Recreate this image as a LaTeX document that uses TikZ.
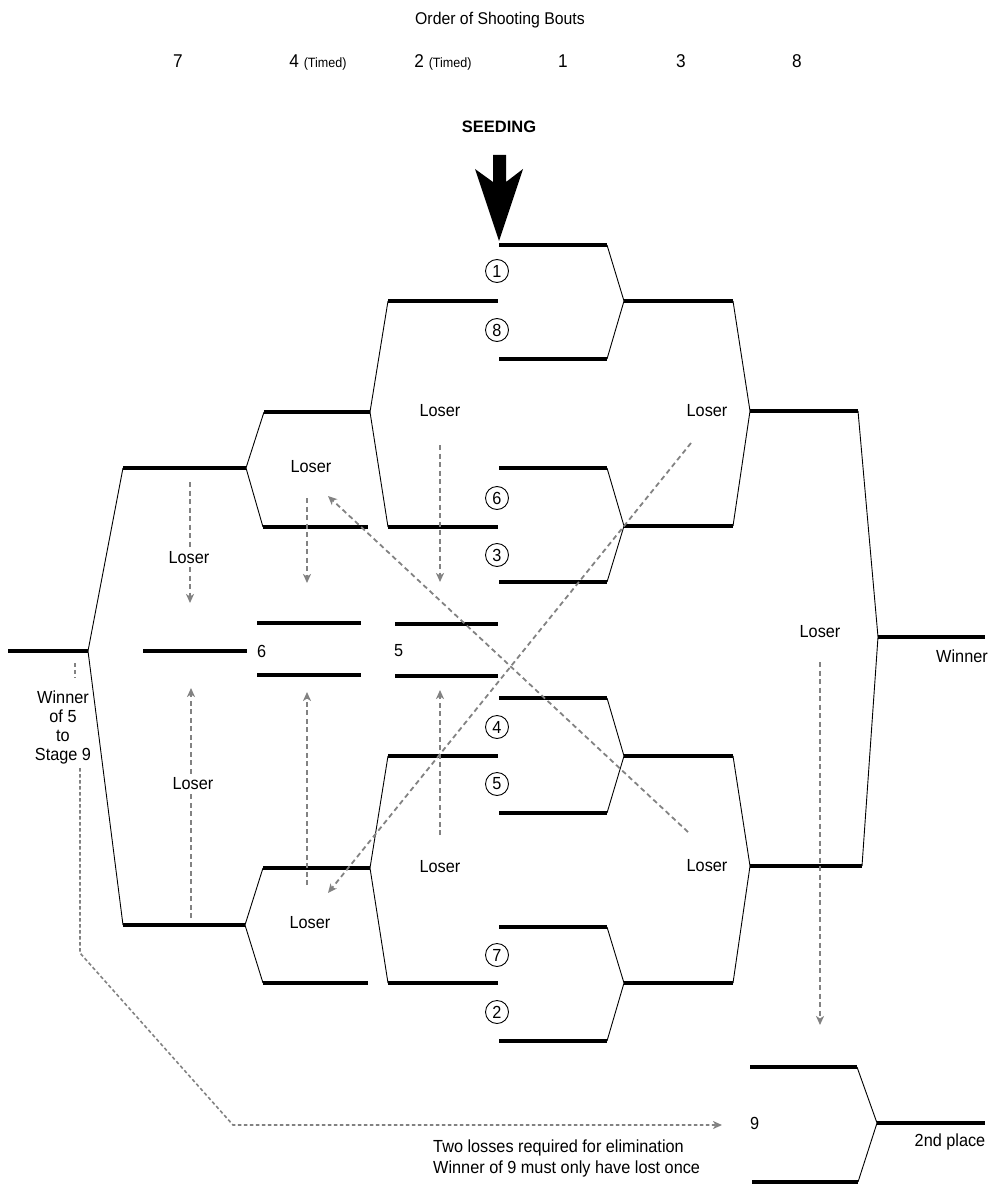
\documentclass[tikz,border=0pt]{standalone}
\usepackage{fontspec}
\setmainfont{Liberation Sans}
\newfontfamily\cond[FakeStretch=0.93]{Liberation Sans}
\usetikzlibrary{arrows.meta}
\definecolor{dgray}{RGB}{130,130,130}
\begin{document}
\begin{tikzpicture}[x=1pt,y=-1pt,
  bk/.style={line width=4pt},
  tn/.style={line width=0.9pt},
  ls/.style={draw=dgray, line width=1.8pt, dash pattern=on 5pt off 3.5pt, -{Stealth[length=9pt,width=8pt,inset=2.5pt]}},
  lb/.style={font=\cond\fontsize{17.5}{19}\selectfont, inner sep=1pt},
  lbw/.style={lb, fill=white, inner sep=2pt},
  cn/.style={circle, draw, line width=0.9pt, minimum size=23pt, inner sep=0pt, font=\cond\fontsize{17.5}{18}\selectfont},
  hd/.style={font=\cond\fontsize{18.5}{20}\selectfont, inner sep=0pt}
]
\useasboundingbox (0,0) rectangle (992,1190);

% header
\node[font=\cond\fontsize{17}{19}\selectfont] (title) at (500,20) {Order of Shooting Bouts};
\node[hd, anchor=base] (h7) at (178,68) {7};
\node[hd, anchor=base] (h4) at (318,68) {4 {\fontsize{13.5}{15}\selectfont (Timed)}};
\node[hd, anchor=base] (h2) at (443,68) {2 {\fontsize{13.5}{15}\selectfont (Timed)}};
\node[hd, anchor=base] (h1) at (563,68) {1};
\node[hd, anchor=base] (h3) at (681,68) {3};
\node[hd, anchor=base] (h8) at (797,68) {8};

% seeding
\node[font=\fontsize{16.5}{19}\selectfont\bfseries] (seed) at (499,127) {SEEDING};
\fill (493,155) -- (506,155) -- (506,182) -- (523,169) -- (499,241) -- (475,169) -- (493,182) -- cycle;

% winner bracket round 1
\foreach \a/\b/\m in {245/359/301, 468/582/526, 698/813/756, 927/1041/983}{
  \draw[bk] (499,\a) -- (607,\a);
  \draw[bk] (499,\b) -- (607,\b);
  \draw[tn] (607,\a) -- (624,\m) -- (607,\b);
  \draw[bk] (624,\m) -- (733,\m);
}
% round 2
\draw[tn] (733,301) -- (750,411) -- (733,526);
\draw[bk] (750,411) -- (858,411);
\draw[tn] (733,756) -- (750,866) -- (733,983);
\draw[bk] (750,866) -- (862,866);
% final
\draw[tn] (858,411) -- (878,637) -- (862,866);
\draw[bk] (878,637) -- (985,637);
\node[lb] (win) at (962,656) {Winner};

% stage 9
\draw[bk] (750,1067) -- (857,1067);
\draw[bk] (752,1182) -- (858,1182);
\draw[tn] (857,1067) -- (877,1123) -- (858,1182);
\draw[bk] (877,1123) -- (985,1123);
\node[lb, anchor=west] (s9) at (749,1123) {9};
\node[lb] (second) at (950,1142) {2nd place};

% loser bracket upper
\draw[bk] (388,301) -- (498,301);
\draw[bk] (388,527) -- (498,527);
\draw[tn] (388,301) -- (370,412) -- (388,527);
\draw[bk] (264,412) -- (370,412);
\draw[bk] (263,527) -- (368,527);
\draw[tn] (264,412) -- (246,468) -- (263,527);
\draw[bk] (123,468) -- (246,468);
% loser bracket lower
\draw[bk] (388,756) -- (498,756);
\draw[bk] (388,983) -- (498,983);
\draw[tn] (388,756) -- (370,868) -- (388,983);
\draw[bk] (263,868) -- (370,868);
\draw[bk] (263,983) -- (368,983);
\draw[tn] (263,868) -- (245,925) -- (263,983);
\draw[bk] (123,925) -- (245,925);
% left final
\draw[tn] (123,468) -- (88,651) -- (123,925);
\draw[bk] (8,651) -- (88,651);

% stages 7, 6, 5
\draw[bk] (143,651) -- (247,651);
\draw[bk] (257,623) -- (361,623);
\draw[bk] (257,675) -- (361,675);
\node[lb, anchor=west] (st6) at (256,651) {6};
\draw[bk] (395,624) -- (498,624);
\draw[bk] (395,676) -- (498,676);
\node[lb, anchor=west] (st5) at (393,651) {5};

% seeds
\node[cn] (n1) at (497,271) {1};
\node[cn] (n8) at (497,330) {8};
\node[cn] (n6) at (497,498) {6};
\node[cn] (n3) at (497,555) {3};
\node[cn] (n4) at (497,727) {4};
\node[cn] (n5) at (497,784) {5};
\node[cn] (n7) at (497,955) {7};
\node[cn] (n2) at (497,1012) {2};

% loser arrows
\draw[ls] (190,482) -- (190,603);
\node[lbw] (l1) at (189,558) {Loser};
\draw[ls] (191,918) -- (191,688);
\node[lbw] (l2) at (193,784) {Loser};
\draw[ls] (307,498) -- (307,583);
\node[lb] (l3) at (311,467) {Loser};
\draw[ls] (307,885) -- (307,692);
\node[lb] (l4) at (310,923) {Loser};
\draw[ls] (440,445) -- (440,582);
\node[lb] (l5) at (440,411) {Loser};
\draw[ls] (440,835) -- (440,690);
\node[lb] (l6) at (440,867) {Loser};
\draw[ls] (691,443) -- (328,893);
\node[lb] (l7) at (707,411) {Loser};
\draw[ls] (688,832) -- (328,496);
\node[lb] (l8) at (707,866) {Loser};
\draw[ls] (820,662) -- (820,1025);
\node[lb] (l9) at (820,632) {Loser};

% winner of 5
\draw[draw=dgray, line width=1.5pt, dash pattern=on 4pt off 3pt] (75,663) -- (75,678);
\node[lb, align=center] (w5) at (63,727) {Winner\\of 5\\to\\Stage 9};
\draw[draw=dgray, line width=1.6pt, dash pattern=on 3.5pt off 2.5pt, -{Stealth[length=9pt,width=8pt,inset=2.5pt]}] (80,768) -- (80,953) -- (233,1125) -- (722,1125);

% notes
\node[lb, anchor=west] (t1) at (432,1148) {Two losses required for elimination};
\node[lb, anchor=west] (t2) at (432,1169) {Winner of 9 must only have lost once};
\end{tikzpicture}
\end{document}
